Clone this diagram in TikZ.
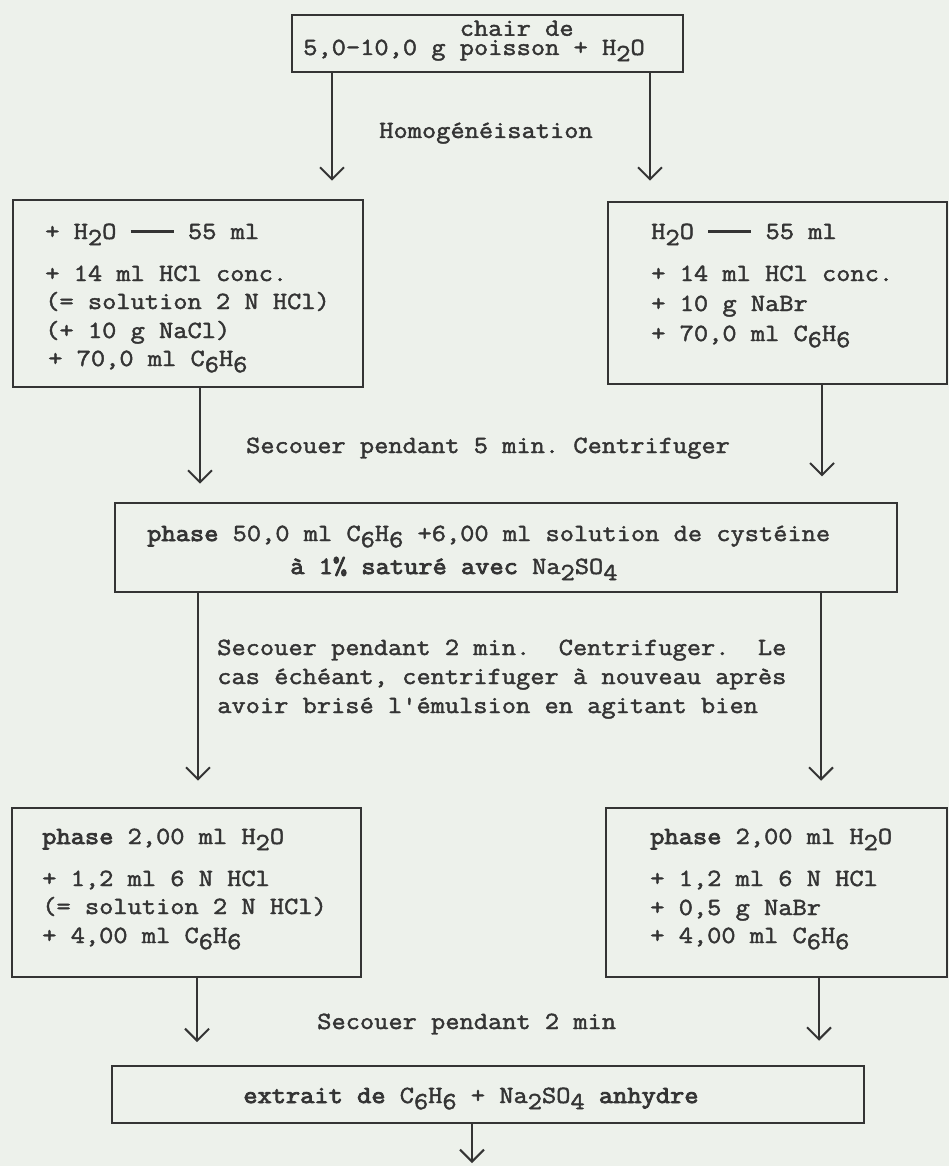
\documentclass[tikz,border=0pt]{standalone}
\usepackage{fontspec}
\usetikzlibrary{arrows.meta,fit}
% typewriter face used for every text, inked a little heavier
\newfontfamily\tw[FakeBold=1.8,FakeStretch=1.12]{Latin Modern Mono}
\newfontfamily\twb[FakeBold=3.4,FakeStretch=1.12]{Latin Modern Mono}
\definecolor{paper}{RGB}{237,241,235}
\definecolor{ink}{RGB}{52,52,52}
% typewriter-style lowered index (same size, half line down)
\newcommand\lowidx[1]{\raisebox{-0.25em}{#1}}
% long typed dash spanning three character cells
\newcommand\tdash{\raisebox{0.26em}{\rule{1.75em}{0.1em}}}
% struck-twice word
\newcommand\heavy[1]{{\twb #1}}
\begin{document}
\begin{tikzpicture}[x=0.75pt,y=-0.75pt,
  box/.style={draw=ink, line width=1.9pt, inner sep=0pt},
  txt/.style={anchor=base west, inner sep=0pt, text=ink,
    font=\tw\fontsize{18.5pt}{21.4pt}\selectfont\frenchspacing},
  ctxt/.style={txt, anchor=base},
  arr/.style={draw=ink, line width=1.5pt,
    -{Straight Barb[length=9pt,width=18pt,line width=1.5pt]}}]
\fill[paper] (0,0) rectangle (949,1166);
\useasboundingbox (0,0) rectangle (949,1166);

% ---- starting material
\node[box, fit={(292,15) (683,72)}] (top) {};
\node[txt] (topT) at (303,55) {5,0–10,0 g \rlap{\raisebox{0.78em}{chair de}}poisson + H\lowidx{2}O};
\node[ctxt] (homog) at (486,138) {Homogénéisation};

% ---- first extraction, NaCl variant
\node[box, fit={(13,200) (363,387)}] (L2) {};
\node[txt] (L2a) at (45,239) {+ H\lowidx{2}O \tdash{} 55 ml};
\node[txt] (L2b) at (45,281) {+ 14 ml HCl conc.};
\node[txt] (L2c) at (45,309) {(= solution 2 N HCl)};
\node[txt] (L2d) at (45,338) {(+ 10 g NaCl)};
\node[txt] (L2e) at (48,366) {+ 70,0 ml C\lowidx{6}H\lowidx{6}};

% ---- first extraction, NaBr variant
\node[box, fit={(608,202) (947,384)}] (R2) {};
\node[txt] (R2a) at (651,239) {H\lowidx{2}O \tdash{} 55 ml};
\node[txt] (R2b) at (651,281) {+ 14 ml HCl conc.};
\node[txt] (R2c) at (651,311) {+ 10 g NaBr};
\node[txt] (R2d) at (651,341) {+ 70,0 ml C\lowidx{6}H\lowidx{6}};

\node[ctxt] (shake5) at (488,453) {Secouer pendant 5 min. Centrifuger};

% ---- cysteine back-extraction
\node[box, fit={(115,503) (897,592)}] (M) {};
\node[txt] (Ma) at (147,541) {\heavy{phase} 50,0 ml C\lowidx{6}H\lowidx{6} +6,00 ml solution de cystéine};
\node[txt] (Mb) at (290,574) {\heavy{à 1\% saturé avec} Na\lowidx{2}SO\lowidx{4}};

\node[txt] (S2a) at (217,655) {Secouer pendant 2 min.\ \ Centrifuger.\ \ Le};
\node[txt] (S2b) at (217,684) {cas échéant, centrifuger à nouveau après};
\node[txt] (S2c) at (217,713) {avoir brisé l\char"27 émulsion en agitant bien};

% ---- re-extraction into benzene
\node[box, fit={(12,808) (361,977)}] (L3) {};
\node[txt] (L3a) at (42,844) {\heavy{phase} 2,00 ml H\lowidx{2}O};
\node[txt] (L3b) at (42,886) {+ 1,2 ml 6 N HCl};
\node[txt] (L3c) at (42,914) {(= solution 2 N HCl)};
\node[txt] (L3d) at (42,943) {+ 4,00 ml C\lowidx{6}H\lowidx{6}};

\node[box, fit={(606,808) (947,977)}] (R3) {};
\node[txt] (R3a) at (650,844) {\heavy{phase} 2,00 ml H\lowidx{2}O};
\node[txt] (R3b) at (650,886) {+ 1,2 ml 6 N HCl};
\node[txt] (R3c) at (650,915) {+ 0,5 g NaBr};
\node[txt] (R3d) at (650,943) {+ 4,00 ml C\lowidx{6}H\lowidx{6}};

\node[txt] (shake2) at (317,1029) {Secouer pendant 2 min};

% ---- final extract
\node[box, fit={(112,1066) (864,1123)}] (F) {};
\node[txt] (Fa) at (243,1103) {\heavy{extrait de} C\lowidx{6}H\lowidx{6} + Na\lowidx{2}SO\lowidx{4} \heavy{anhydre}};

% ---- flow arrows
\coordinate (xa) at (332,0);
\coordinate (xb) at (650,0);
\coordinate (xc) at (200,0);
\coordinate (xd) at (822,0);
\coordinate (xe) at (198,0);
\coordinate (xf) at (821,0);
\coordinate (xg) at (197,0);
\coordinate (xh) at (819,0);
\coordinate (out) at (472,1163);

\draw[arr, shorten >=13.5pt] (top.south -| xa) -- (L2.north -| xa);
\draw[arr, shorten >=15pt]   (top.south -| xb) -- (R2.north -| xb);
\draw[arr, shorten >=13.5pt] (L2.south -| xc) -- (M.north -| xc);
\draw[arr, shorten >=19pt]   (R2.south -| xd) -- (M.north -| xd);
\draw[arr, shorten >=19.5pt] (M.south -| xe) -- (L3.north -| xe);
\draw[arr, shorten >=19.5pt] (M.south -| xf) -- (R3.north -| xf);
\draw[arr, shorten >=17pt]   (L3.south -| xg) -- (F.north -| xg);
\draw[arr, shorten >=18pt]   (R3.south -| xh) -- (F.north -| xh);
\draw[arr] (F.south -| out) -- (out);
\end{tikzpicture}
\end{document}
